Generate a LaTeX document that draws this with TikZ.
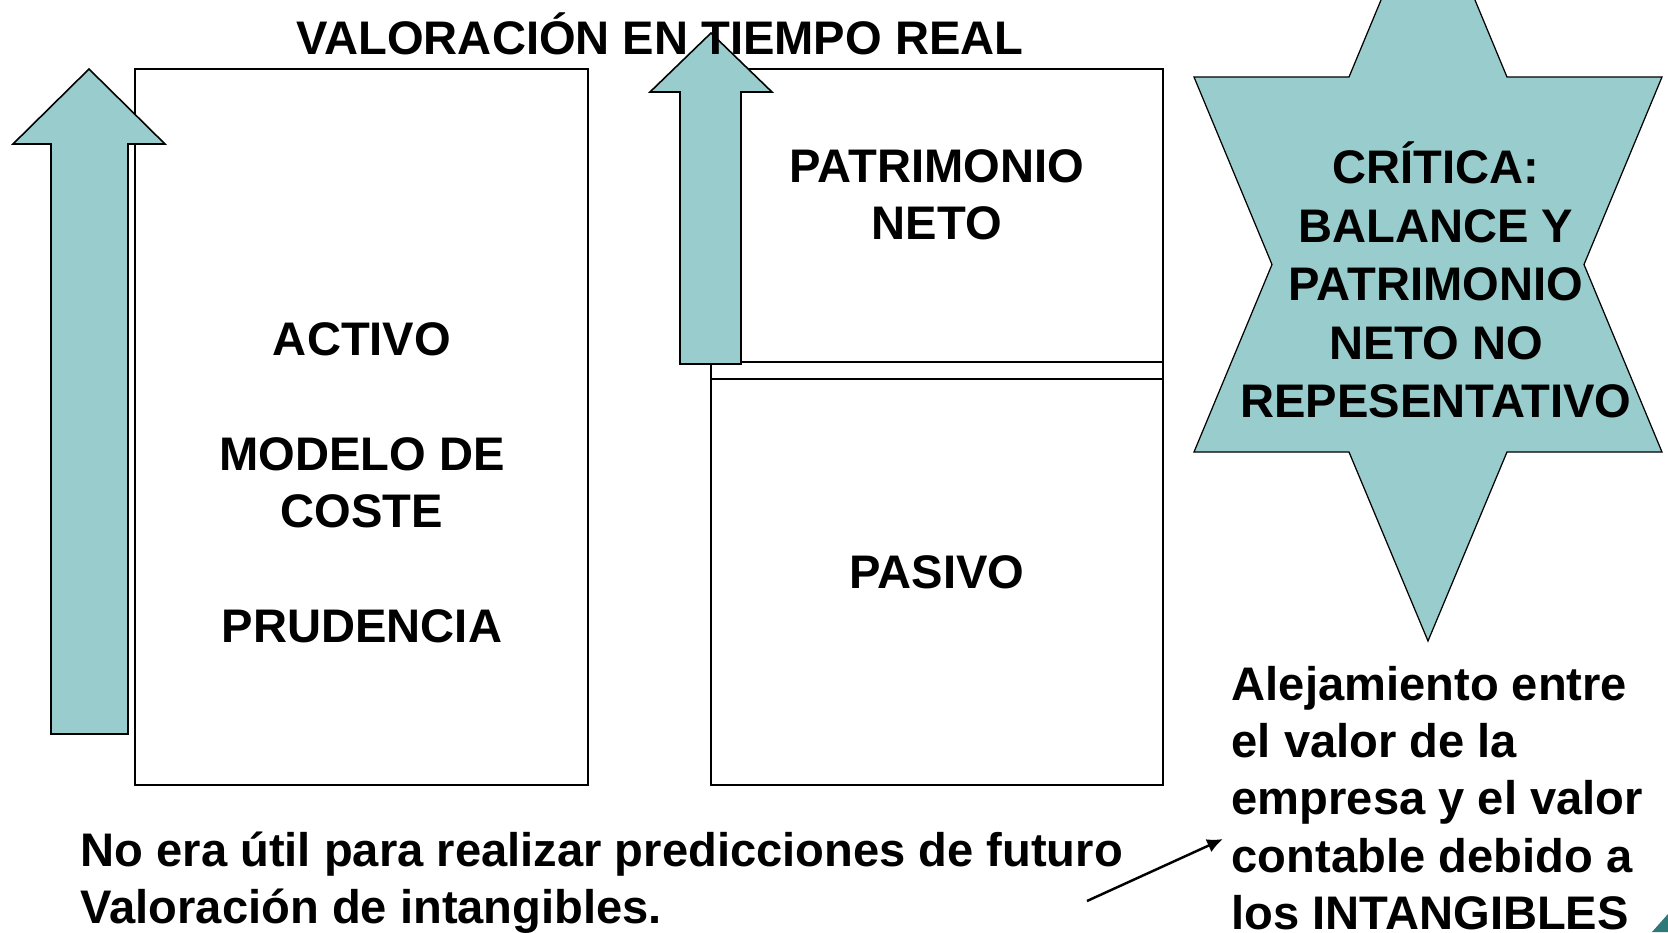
\documentclass[tikz,border=0pt]{standalone}
\usepackage{fontspec}
\setmainfont{Liberation Sans}
\usetikzlibrary{positioning,arrows.meta}

\definecolor{verdeagua}{RGB}{153,204,204}
\definecolor{verdeoscuro}{RGB}{47,120,120}

\tikzstyle{caja} = [rectangle, draw=black, line width=0.6pt, fill=white, inner sep=0pt, outer sep=0pt, minimum width=4.52cm]
\tikzstyle{texto} = [inner sep=0pt, font=\fontsize{13.4}{16.3}\selectfont\bfseries]
\tikzstyle{flecha} = [fill=verdeagua, draw=black, line width=0.45pt, line join=miter]

\begin{document}
\begin{tikzpicture}[x=0.01cm,y=-0.01cm]
\useasboundingbox (0,0) rectangle (1668,932);
\clip (0,0) rectangle (1668,932);

% balance
\node[caja, minimum width=4.53cm, minimum height=7.16cm] (BoxActivo) at (361.5,427) {};
\node[caja, minimum height=2.93cm] (BoxPatrimonio) at (937,215.5) {};
\node[caja, minimum height=0.17cm, below=0pt of BoxPatrimonio] (BoxFranja) {};
\node[caja, minimum height=4.06cm, below=0pt of BoxFranja] (BoxPasivo) {};

% flechas
\draw[flecha] (51,734) -- (51,144) -- (13,144) -- (89,69) -- (165,144) -- (128,144) -- (128,734) -- cycle;
\draw[flecha] (680,364) -- (680,92) -- (650,92) -- (711,33) -- (772,92) -- (741,92) -- (741,364) -- cycle;

% estrella
\draw[flecha, line width=0.35pt] (1428,-113) -- (1507,77) -- (1662,77) -- (1584,264.5) -- (1662,452) -- (1507,452)
    -- (1428,641) -- (1349,452) -- (1194,452) -- (1272,264.5) -- (1194,77) -- (1349,77) -- cycle;

\node[texto] (Titulo) at (660,34) {VALORACIÓN EN TIEMPO REAL};
\node[texto, align=center] (TextoActivo) at (362,483) {ACTIVO\\[16.3pt]MODELO DE\\COSTE\\[16.3pt]PRUDENCIA};
\node[texto, align=center] (TextoPatrimonio) at (BoxPatrimonio.center |- 0,195) {PATRIMONIO\\NETO};
\node[texto] (TextoPasivo) at (BoxPasivo.center |- 0,572) {PASIVO};
\node[texto, align=center, font=\fontsize{13.4}{16.6}\selectfont\bfseries] (TextoCritica) at (1436,280) {CRÍTICA:\\BALANCE Y\\PATRIMONIO\\NETO NO\\REPESENTATIVO};

\node[texto, align=left, anchor=west] (TextoFuturo) at (80,883) {No era útil para realizar predicciones de futuro\\Valoración de intangibles.};
\node[texto, align=left, anchor=west] (TextoAlejamiento) at (1231,798) {Alejamiento entre\\el valor de la\\empresa y el valor\\contable debido a\\los INTANGIBLES};

\coordinate (FlechaIni) at (1087,901);
\coordinate (FlechaFin) at (1223,839);
\draw[line width=0.7pt, -{Latex[length=4.5pt,width=4pt]}] (FlechaIni) -- (FlechaFin);

% esquina
\fill[verdeoscuro] (1652,932) -- (1668,914) -- (1668,932) -- cycle;
\end{tikzpicture}
\end{document}
